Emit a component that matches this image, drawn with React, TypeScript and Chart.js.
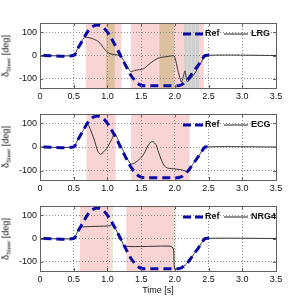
import React, { useEffect, useRef } from "react";
import { Chart, registerables } from "chart.js";
Chart.register(...registerables);

const xTicks = [0, 0.5, 1, 1.5, 2, 2.5, 3, 3.5];
const yTicks = [-100, 0, 100];

const refT = [0.05, 0.5, 0.55, 0.6, 0.65, 0.7, 0.75, 0.8, 0.85, 0.9, 0.95, 1.0, 1.05, 1.1, 1.15, 1.2, 1.25, 1.3, 1.35, 1.4, 1.45, 1.5, 1.55, 2.05, 2.1, 2.15, 2.2, 2.25, 2.3, 2.35, 2.4, 2.45, 2.55];
const refV = [0, 0, 25, 50, 75, 100, 118, 128, 131, 128, 118, 100, 78, 52, 25, -3, -32, -60, -86, -105, -120, -128, -130, -130, -126, -115, -100, -80, -60, -40, -18, 0, 0];

const lrgT = [0, 0.5, 0.55, 0.6, 0.65, 0.7, 0.75, 0.8, 0.85, 0.9, 0.95, 1.0, 1.05, 1.1, 1.15, 1.2, 1.25, 1.3, 1.35, 1.4, 1.45, 1.5, 1.55, 1.6, 1.65, 1.7, 1.75, 1.8, 1.9, 1.99, 2.05, 2.1, 2.15, 2.18, 2.22, 2.3, 2.35, 2.4, 2.45, 3.5];
const lrgV = [0, 0, 25, 50, 75, 78, 75, 70, 63, 50, 30, 14, 7, 4, 2, -5, -25, -50, -70, -65, -62, -60, -55, -42, -30, -20, -12, -8, -4, -2, -70, -115, -66, -112, -105, -75, -50, -25, 0, 0];

const ecgT = [0, 0.5, 0.55, 0.6, 0.65, 0.7, 0.74, 0.8, 0.86, 0.9, 0.99, 1.06, 1.11, 1.15, 1.2, 1.25, 1.3, 1.35, 1.4, 1.45, 1.5, 1.55, 1.6, 1.65, 1.68, 1.72, 1.75, 1.8, 1.85, 1.9, 2.0, 2.1, 2.2, 2.25, 2.3, 2.35, 2.4, 2.45, 3.5];
const ecgV = [0, 0, 25, 50, 75, 100, 79, 35, -20, -31, -6, 30, 58, 35, 5, -25, -52, -73, -68, -58, -45, -25, 5, 22, 22, 10, -15, -55, -82, -90, -93, -97, -105, -80, -60, -40, -18, 0, 0];

const nrgT = [0, 0.5, 0.55, 0.59, 1.04, 1.07, 1.1, 1.15, 1.2, 1.26, 1.93, 1.98, 1.995, 2.05, 2.1, 2.15, 2.2, 2.25, 2.3, 2.35, 2.4, 2.45, 3.5];
const nrgV = [0, 0, 25, 48, 55, 67, 52, 25, -3, -33, -33, -45, -130, -130, -126, -115, -100, -80, -60, -40, -18, 0, 0];

const lrgPink = [[0.68, 1.21], [1.35, 2.43]];
const lrgBrown = [[0.98, 1.11], [1.77, 1.99]];
const lrgGrey = [[2.14, 2.18], [2.19, 2.24], [2.25, 2.3], [2.31, 2.36]];
const ecgPink = [[0.69, 1.12], [1.35, 2.22]];
const nrgPink = [[0.59, 1.05], [1.28, 1.99]];
const nrgGreen = [[1.05, 1.08], [1.99, 2.02]];

const PINK = "rgb(248,212,212)";
const BROWN = "rgb(220,192,160)";
const GREY = "rgb(208,208,208)";
const GREEN = "rgb(226,234,212)";
const FONT = "'Liberation Sans', Arial, sans-serif";

type Band = { ranges: number[][]; color: string };

function pts(t: number[], v: number[]) {
  return t.map((x, i) => ({ x, y: v[i] }));
}

function Sub(props: { top: number; height: number; padTop: number; padBottom: number; t: number[]; v: number[]; name: string; bands: Band[] }) {
  const ref = useRef<HTMLCanvasElement>(null);
  useEffect(() => {
    const shade = {
      id: "shade",
      beforeDraw(chart: any) {
        const { ctx, chartArea: a, scales } = chart;
        ctx.save();
        for (const b of props.bands) {
          ctx.fillStyle = b.color;
          for (const r of b.ranges) {
            const x0 = scales.x.getPixelForValue(r[0]);
            const x1 = scales.x.getPixelForValue(r[1]);
            ctx.fillRect(x0, a.top, x1 - x0, a.bottom - a.top);
          }
        }
        ctx.restore();
      },
      afterDraw(chart: any) {
        const { ctx, chartArea: a, scales } = chart;
        ctx.save();
        ctx.strokeStyle = "#606060";
        ctx.lineWidth = 1;
        ctx.strokeRect(Math.round(a.left) + 0.5, Math.round(a.top) + 0.5, Math.round(a.right - a.left), Math.round(a.bottom - a.top));
        ctx.beginPath();
        for (const v of xTicks) {
          const x = Math.round(scales.x.getPixelForValue(v)) + 0.5;
          ctx.moveTo(x, a.bottom);
          ctx.lineTo(x, a.bottom - 3);
          ctx.moveTo(x, a.top);
          ctx.lineTo(x, a.top + 3);
        }
        for (const v of yTicks) {
          const y = Math.round(scales.y.getPixelForValue(v)) + 0.5;
          ctx.moveTo(a.left, y);
          ctx.lineTo(a.left + 3, y);
          ctx.moveTo(a.right, y);
          ctx.lineTo(a.right - 3, y);
        }
        ctx.stroke();
        // legend
        const ly = a.top + 11;
        ctx.lineWidth = 3;
        ctx.strokeStyle = "#0a0aa8";
        ctx.setLineDash([8, 4]);
        ctx.beginPath();
        ctx.moveTo(183, ly);
        ctx.lineTo(204, ly);
        ctx.stroke();
        ctx.setLineDash([]);
        ctx.lineWidth = 1;
        ctx.strokeStyle = "#222";
        ctx.beginPath();
        ctx.moveTo(224, ly);
        ctx.lineTo(248, ly);
        ctx.stroke();
        ctx.fillStyle = "#111";
        ctx.font = "bold 9px " + FONT;
        ctx.textBaseline = "middle";
        ctx.fillText("Ref", 205, ly);
        ctx.fillText(props.name, 251, ly);
        ctx.restore();
      },
    };
    const chart = new Chart(ref.current!, {
      type: "line",
      data: {
        datasets: [
          {
            data: pts(refT, refV),
            borderColor: "#0a0aa8",
            borderWidth: 3,
            borderDash: [8, 5],
            pointRadius: 0,
            tension: 0.3,
            order: 0,
          },
          {
            data: pts(props.t, props.v),
            borderColor: "#333",
            borderWidth: 1,
            pointRadius: 0,
            tension: 0.2,
            order: 1,
          },
        ],
      },
      options: {
        animation: false,
        responsive: false,
        parsing: false,
        layout: { padding: { top: props.padTop, bottom: props.padBottom, left: 0, right: 29 } },
        plugins: { legend: { display: false }, tooltip: { enabled: false } },
        scales: {
          x: {
            type: "linear",
            min: 0,
            max: 3.5,
            afterBuildTicks: (s: any) => {
              s.ticks = xTicks.map((v) => ({ value: v }));
            },
            afterFit: (s: any) => {
              s.height = 14;
            },
            grid: { color: "#8a8a8a", drawTicks: false, lineWidth: 1 },
            border: { display: false, dash: [1, 2] },
            ticks: { padding: 3, color: "#111", font: { family: FONT, size: 9 }, maxRotation: 0 },
          },
          y: {
            type: "linear",
            min: -140,
            max: 140,
            afterBuildTicks: (s: any) => {
              s.ticks = yTicks.map((v) => ({ value: v }));
            },
            afterFit: (s: any) => {
              s.width = 40;
            },
            grid: { color: "#8a8a8a", drawTicks: false, lineWidth: 1 },
            border: { display: false, dash: [1, 2] },
            ticks: { padding: 3, color: "#111", font: { family: FONT, size: 9 } },
          },
        },
      },
      plugins: [shade],
    });
    return () => chart.destroy();
  }, []);
  const plotTop = props.top + props.padTop;
  const plotBottom = props.top + props.height - props.padBottom - 14;
  return (
    <>
      <canvas ref={ref} width={305} height={props.height} style={{ position: "absolute", left: 0, top: props.top, width: 305, height: props.height }} />
      <div
        style={{
          position: "absolute",
          left: 7,
          top: (plotTop + plotBottom) / 2,
          transform: "translate(-50%, -50%) rotate(-90deg)",
          whiteSpace: "nowrap",
          font: "9px " + FONT,
          color: "#111",
          lineHeight: "10px",
        }}
      >
        δ<sub style={{ fontSize: 6, verticalAlign: "-2px" }}>Steer</sub> [deg]
      </div>
    </>
  );
}

export default function App() {
  return (
    <div style={{ position: "fixed", left: 0, top: 0, width: 305, height: 305, background: "#fff", overflow: "hidden" }}>
      <Sub top={0} height={102} padTop={23} padBottom={0} t={lrgT} v={lrgV} name="LRG" bands={[{ ranges: lrgPink, color: PINK }, { ranges: lrgBrown, color: BROWN }, { ranges: lrgGrey, color: GREY }]} />
      <Sub top={100} height={102} padTop={14} padBottom={8} t={ecgT} v={ecgV} name="ECG" bands={[{ ranges: ecgPink, color: PINK }]} />
      <Sub top={195} height={90} padTop={11} padBottom={0} t={nrgT} v={nrgV} name="NRG4" bands={[{ ranges: nrgPink, color: PINK }, { ranges: nrgGreen, color: GREEN }]} />
      <div style={{ position: "absolute", left: 158, top: 290, transform: "translate(-50%, -50%)", font: "9px " + FONT, color: "#111", whiteSpace: "nowrap" }}>Time [s]</div>
    </div>
  );
}
